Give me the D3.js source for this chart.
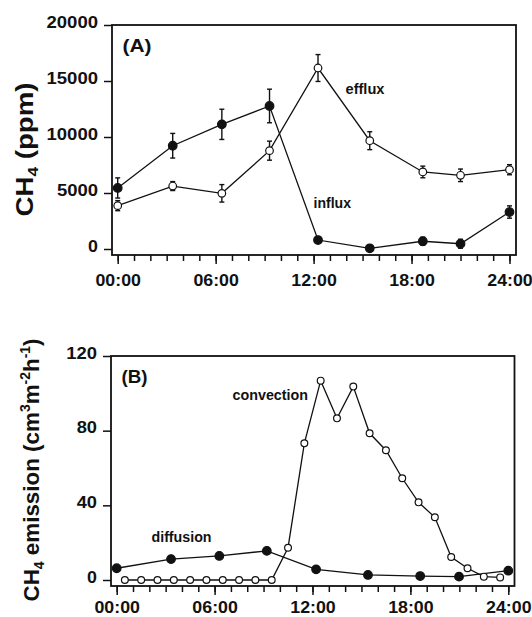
<!DOCTYPE html>
<html>
<head>
<meta charset="utf-8">
<script src="https://cdn.jsdelivr.net/npm/d3@7"></script>
<style>
  body { margin: 0; background: #fff; }
  svg { display: block; font-family: "Liberation Sans", Arial, sans-serif; font-weight: bold; }
</style>
</head>
<body>
<svg id="chart" width="532" height="617"></svg>
<script>
// panel A - CH4 concentration (ppm)
var timesA = [0, 3.37, 6.38, 9.3, 12.27, 15.44, 18.69, 21.0, 24.0];
var influx = [5450, 9220, 11130, 12770, 800, 60, 690, 470, 3300];
var influxErr = [900, 1100, 1350, 1500, 200, 100, 360, 400, 550];
var efflux = [3870, 5620, 4970, 8780, 16160, 9670, 6880, 6580, 7080];
var effluxErr = [450, 400, 780, 850, 1200, 800, 520, 560, 450];

// panel B - CH4 emission
var timesDiff = [0, 3.33, 6.29, 9.2, 12.22, 15.4, 18.6, 20.98, 24.0];
var diffusion = [6.3, 11.2, 12.9, 15.6, 5.7, 2.7, 2.1, 1.8, 5.0];
var timesConv = [0.5, 1.5, 2.5, 3.5, 4.5, 5.5, 6.5, 7.5, 8.5, 9.5, 10.5, 11.5,
                 12.5, 13.5, 14.5, 15.5, 16.5, 17.5, 18.5, 19.5, 20.5, 21.5, 22.5, 23.5];
var convection = [0, 0, 0, 0, 0, 0, 0, 0, 0, 0, 17.3, 73.2,
                  106.8, 86.6, 103.6, 78.6, 69.5, 54.5, 41.6, 33.6, 12.3, 6.3, 1.8, 1.4];

var hourTicks = d3.range(0, 25);
var labelTicks = [0, 6, 12, 18, 24];
var tickLabels = ["00:00", "06:00", "12:00", "18:00", "24:00"];
var yTicksA = [0, 5000, 10000, 15000, 20000];
var yTicksB = [0, 40, 80, 120];

var svg = d3.select("#chart");

function zip(xs, ys, es) {
  return xs.map(function(x, i) { return {x: x, y: ys[i], e: es ? es[i] : 0}; });
}

// the original lettering is wide, so stretch the text to a measured width
function stretch(sel, w) {
  sel.attr("textLength", w).attr("lengthAdjust", "spacingAndGlyphs");
}

function drawPanel(p) {
  var g = svg.append("g");
  var x = d3.scaleLinear().domain([0, 24]).range([p.x0h, p.x24h]);
  var y = d3.scaleLinear().domain(p.yDomain).range([p.y0, p.yTop]);

  // frame
  g.append("rect")
    .attr("x", p.left).attr("y", p.yTop)
    .attr("width", p.right - p.left).attr("height", p.bottom - p.yTop)
    .attr("fill", "none").attr("stroke", "#111").attr("stroke-width", 1.8);

  // y axis
  var ya = g.append("g")
    .attr("transform", "translate(" + p.left + ",0)")
    .call(d3.axisLeft(y).tickValues(p.yTicks).tickSize(8).tickPadding(6).tickFormat(d3.format("d")));
  ya.select(".domain").remove();
  ya.selectAll("line").attr("stroke", "#111").attr("stroke-width", 1.5);
  ya.selectAll("text")
    .attr("dy", "0.14em")
    .style("font-size", "16px").style("font-weight", "bold").style("font-family", null)
    .attr("fill", "#111")
    .each(function() {
      var t = d3.select(this);
      stretch(t, t.text().length * 10.4 - 0.5);
    });

  // x axis, minor ticks every hour
  var xm = g.append("g")
    .attr("transform", "translate(0," + p.bottom + ")")
    .call(d3.axisBottom(x).tickValues(hourTicks).tickSize(6).tickFormat(""));
  xm.select(".domain").remove();
  xm.selectAll("line").attr("stroke", "#111").attr("stroke-width", 1.5);

  var xa = g.append("g")
    .attr("transform", "translate(0," + p.bottom + ")")
    .call(d3.axisBottom(x).tickValues(labelTicks).tickSize(9)
      .tickFormat(function(d, i) { return tickLabels[i]; }));
  xa.select(".domain").remove();
  xa.selectAll("line").attr("stroke", "#111").attr("stroke-width", 1.5);
  xa.selectAll("text")
    .attr("y", p.labelDy).attr("dy", 0)
    .style("font-size", "17px").style("font-weight", "bold").style("font-family", null)
    .attr("fill", "#111")
    .call(stretch, 45.5);

  var line = d3.line().x(function(d) { return x(d.x); }).y(function(d) { return y(d.y); });

  p.series.forEach(function(s) {
    var pts = zip(s.xs, s.ys, s.errs);
    g.append("path").datum(pts)
      .attr("d", line).attr("fill", "none")
      .attr("stroke", "#111").attr("stroke-width", 1.3);

    if (s.errs) {
      var eb = g.selectAll(null).data(pts).enter().append("g");
      eb.append("line")
        .attr("x1", function(d) { return x(d.x); }).attr("x2", function(d) { return x(d.x); })
        .attr("y1", function(d) { return y(d.y - d.e); }).attr("y2", function(d) { return y(d.y + d.e); })
        .attr("stroke", "#111").attr("stroke-width", 1.4);
      [-1, 1].forEach(function(sg) {
        eb.append("line")
          .attr("x1", function(d) { return x(d.x) - 2.5; }).attr("x2", function(d) { return x(d.x) + 2.5; })
          .attr("y1", function(d) { return y(d.y + sg * d.e); }).attr("y2", function(d) { return y(d.y + sg * d.e); })
          .attr("stroke", "#111").attr("stroke-width", 1.4);
      });
    }

    g.selectAll(null).data(pts).enter().append("circle")
      .attr("cx", function(d) { return x(d.x); })
      .attr("cy", function(d) { return y(d.y); })
      .attr("r", s.filled ? 4.3 : s.r)
      .attr("fill", s.filled ? "#111" : "#fff")
      .attr("stroke", "#111").attr("stroke-width", 1.2);
  });

  p.notes.forEach(function(n) {
    g.append("text").attr("x", n.x).attr("y", n.y)
      .style("font-size", n.size + "px").attr("fill", "#111")
      .text(n.t)
      .call(stretch, n.w);
  });
}

drawPanel({
  left: 112, right: 516, yTop: 25, bottom: 255, y0: 249,
  x0h: 117.7, x24h: 509.5, labelDy: 30.5,
  yDomain: [0, 20000], yTicks: yTicksA,
  series: [
    {xs: timesA, ys: influx, errs: influxErr, filled: true},
    {xs: timesA, ys: efflux, errs: effluxErr, filled: false, r: 3.8}
  ],
  notes: [
    {x: 122.5, y: 51.5, t: "(A)", size: 18, w: 29},
    {x: 345.5, y: 94, t: "efflux", size: 14.5, w: 39},
    {x: 313.5, y: 208, t: "influx", size: 14.5, w: 37.5}
  ]
});

drawPanel({
  left: 111, right: 514.5, yTop: 356, bottom: 586, y0: 580,
  x0h: 116.7, x24h: 508.3, labelDy: 26.8,
  yDomain: [0, 120], yTicks: yTicksB,
  series: [
    {xs: timesDiff, ys: diffusion, filled: true},
    {xs: timesConv, ys: convection, filled: false, r: 3.4}
  ],
  notes: [
    {x: 121.5, y: 382.5, t: "(B)", size: 18, w: 26},
    {x: 151.5, y: 541.5, t: "diffusion", size: 14.3, w: 60},
    {x: 232.5, y: 400, t: "convection", size: 14.3, w: 75.5}
  ]
});

// axis titles
var tA = svg.append("text")
  .attr("transform", "translate(33,149.5) rotate(-90)")
  .attr("text-anchor", "middle")
  .style("font-size", "24px").attr("fill", "#111");
tA.append("tspan").text("CH");
tA.append("tspan").text("4").style("font-size", "15px").attr("dy", 5);
tA.append("tspan").text(" (ppm)").attr("dy", -5);
stretch(tA, 134);

var tB = svg.append("text")
  .attr("transform", "translate(38.5,470) rotate(-90)")
  .attr("text-anchor", "middle")
  .style("font-size", "22.5px").attr("fill", "#111");
tB.append("tspan").text("CH");
tB.append("tspan").text("4").style("font-size", "14px").attr("dy", 5);
tB.append("tspan").text(" emission (cm").attr("dy", -5);
tB.append("tspan").text("3").style("font-size", "14px").attr("dy", -9);
tB.append("tspan").text("m").attr("dy", 9);
tB.append("tspan").text("-2").style("font-size", "14px").attr("dy", -9);
tB.append("tspan").text("h").attr("dy", 9);
tB.append("tspan").text("-1").style("font-size", "14px").attr("dy", -9);
tB.append("tspan").text(")").attr("dy", 9);
stretch(tB, 263);
</script>
</body>
</html>
